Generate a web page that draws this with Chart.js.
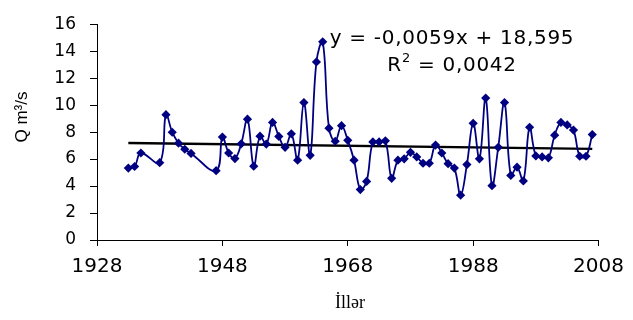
<!DOCTYPE html>
<html lang="az">
<head>
    <meta charset="UTF-8">
    <title>Q m3/s</title>
    <style>
        body { margin: 0; background: #fff; }
        #wrap { width: 633px; height: 320px; }
    </style>
    <script src="https://cdn.jsdelivr.net/npm/chart.js"></script>
</head>
<body>
    <div id="wrap"><canvas id="chart" width="633" height="320"></canvas></div>

    <script>
        // illər və su sərfi (Q, m3/s)
        const years = [1933, 1934, 1935, 1938, 1939, 1940, 1941, 1942, 1943, 1947,
            1948, 1949, 1950, 1951, 1952, 1953, 1954, 1955, 1956, 1957,
            1958, 1959, 1960, 1961, 1962, 1963, 1964, 1965, 1966, 1967,
            1968, 1969, 1970, 1971, 1972, 1973, 1974, 1975, 1976, 1977,
            1978, 1979, 1980, 1981, 1982, 1983, 1984, 1985, 1986, 1987,
            1988, 1989, 1990, 1991, 1992, 1993, 1994, 1995, 1996, 1997,
            1998, 1999, 2000, 2001, 2002, 2003, 2004, 2005, 2006, 2007];
        const flow = [5.33, 5.45, 6.45, 5.73, 9.29, 7.99, 7.18, 6.73, 6.42, 5.14,
            7.63, 6.45, 6.04, 7.13, 8.96, 5.47, 7.70, 7.11, 8.72, 7.68,
            6.87, 7.87, 5.92, 10.19, 6.28, 13.2, 14.69, 8.29, 7.32, 8.48,
            7.39, 5.92, 3.74, 4.34, 7.27, 7.27, 7.35, 4.57, 5.92, 6.02,
            6.5, 6.16, 5.69, 5.69, 7.04, 6.45, 5.66, 5.33, 3.32, 5.59,
            8.65, 6.02, 10.52, 4.03, 6.87, 10.19, 4.79, 5.40, 4.38, 8.36,
            6.23, 6.16, 6.09, 7.77, 8.72, 8.53, 8.15, 6.21, 6.21, 7.82];
        const xTicks = [1928, 1948, 1968, 1988, 2008];
        const yTicks = [0, 2, 4, 6, 8, 10, 12, 14, 16];

        // xətti trend: y = -0,0059x + 18,595
        const trendSlope = -0.0059;
        const trendIntercept = 18.595;
        const trendYears = [years[0], years[years.length - 1]];

        const points = years.map((yr, i) => ({ x: yr, y: flow[i] }));
        const trendPoints = trendYears.map(yr => ({ x: yr, y: trendSlope * yr + trendIntercept }));

        // tənlik, oxların adları
        const labelsPlugin = {
            id: 'labels',
            afterDraw(chart) {
                const ctx = chart.ctx;
                ctx.save();
                ctx.fillStyle = '#000';
                ctx.letterSpacing = '0.7px';

                // y = ... sətri
                ctx.font = '20px "DejaVu Sans"';
                ctx.textAlign = 'center';
                ctx.textBaseline = 'alphabetic';
                ctx.fillText('y = -0,0059x + 18,595', 452, 44);

                // R² sətri
                const r = 'R', sup = '2', rest = ' = 0,0042';
                ctx.font = '20px "DejaVu Sans"';
                const wR = ctx.measureText(r).width;
                const wRest = ctx.measureText(rest).width;
                ctx.font = '13px "DejaVu Sans"';
                const wSup = ctx.measureText(sup).width;
                let x = 452 - (wR + wSup + wRest) / 2;
                ctx.textAlign = 'left';
                ctx.font = '20px "DejaVu Sans"';
                ctx.fillText(r, x, 71);
                x += wR;
                ctx.font = '13px "DejaVu Sans"';
                ctx.fillText(sup, x, 62);
                x += wSup;
                ctx.font = '20px "DejaVu Sans"';
                ctx.fillText(rest, x, 71);

                // x oxunun adı
                ctx.letterSpacing = '0px';
                ctx.font = '18px "Liberation Serif"';
                ctx.textAlign = 'center';
                ctx.textBaseline = 'middle';
                ctx.fillText('İllər', 350, 303);

                // y oxunun adı
                ctx.translate(22, 117);
                ctx.rotate(-Math.PI / 2);
                ctx.font = '17px "Liberation Sans"';
                ctx.fillText('Q m³/s', 0, 0);
                ctx.restore();
            }
        };

        const ctx = document.getElementById('chart').getContext('2d');
        new Chart(ctx, {
            type: 'scatter',
            data: {
                datasets: [
                    {
                        data: points,
                        showLine: true,
                        borderColor: '#000080',
                        borderWidth: 1.8,
                        backgroundColor: '#000080',
                        pointStyle: 'rectRot',
                        pointRadius: 4.6,
                        pointBorderWidth: 0,
                        tension: 0.4
                    },
                    {
                        data: trendPoints,
                        showLine: true,
                        borderColor: '#000',
                        borderWidth: 2.4,
                        pointRadius: 0,
                        tension: 0
                    }
                ]
            },
            options: {
                responsive: false,
                animation: false,
                layout: { padding: { top: 15, right: 29, left: 0, bottom: 0 } },
                plugins: {
                    legend: { display: false },
                    tooltip: { enabled: false }
                },
                scales: {
                    x: {
                        type: 'linear',
                        min: xTicks[0],
                        max: xTicks[xTicks.length - 1],
                        afterBuildTicks: s => { s.ticks = xTicks.map(v => ({ value: v })); },
                        afterFit: s => { s.height = 80; },
                        ticks: {
                            color: '#000',
                            font: { family: 'DejaVu Sans', size: 20 },
                            padding: 9,
                            maxRotation: 0,
                            callback: v => String(v)
                        },
                        grid: { drawOnChartArea: false, drawTicks: true, tickLength: 6, color: '#000' },
                        border: { color: '#000', width: 1 }
                    },
                    y: {
                        min: yTicks[0],
                        max: yTicks[yTicks.length - 1],
                        afterBuildTicks: s => { s.ticks = yTicks.map(v => ({ value: v })); },
                        afterFit: s => { s.width = 97; },
                        ticks: {
                            color: '#000',
                            font: { family: 'DejaVu Sans', size: 17 },
                            padding: 14,
                            callback: v => String(v)
                        },
                        grid: { drawOnChartArea: false, drawTicks: true, tickLength: 7, color: '#000' },
                        border: { color: '#000', width: 1 }
                    }
                }
            },
            plugins: [labelsPlugin]
        });
    </script>
</body>
</html>
